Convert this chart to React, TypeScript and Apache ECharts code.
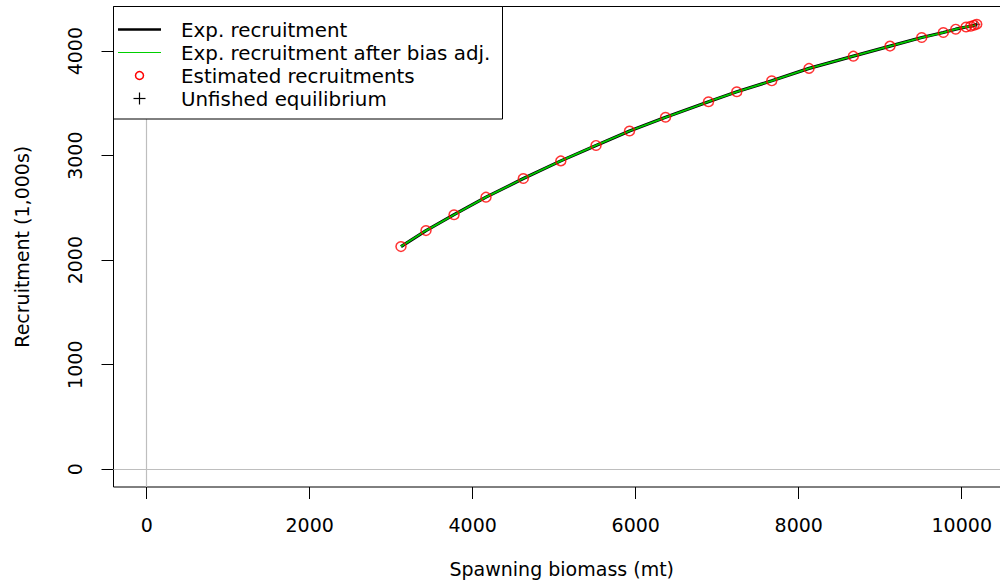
import React, { useEffect, useRef } from "react";
import * as echarts from "echarts";

// Values
const spawningBiomass = [3120, 3427, 3771, 4163, 4621, 5081, 5513, 5924, 6366, 6893, 7240, 7669, 8126, 8670, 9120, 9509, 9774, 9926, 10053, 10110, 10151, 10184];
const recruitment = [2130, 2283, 2435, 2603, 2781, 2950, 3098, 3236, 3367, 3516, 3611, 3716, 3835, 3952, 4048, 4130, 4178, 4210, 4231, 4238, 4248, 4257];
const unfishedB0 = [10185];
const unfishedR0 = [4257];
const xTicks = [0, 2000, 4000, 6000, 8000, 10000];
const yTicks = [0, 1000, 2000, 3000, 4000];
const legendLabels = ["Exp. recruitment", "Exp. recruitment after bias adj.", "Estimated recruitments", "Unfished equilibrium"];

const FONT = "DejaVu Sans";
const FS = 19;

export default function App() {
  const ref = useRef<HTMLDivElement>(null);
  useEffect(() => {
    if (!ref.current) return;
    const chart = echarts.init(ref.current, null, { renderer: "svg" });
    const pts = spawningBiomass.map((x, i) => [x, recruitment[i]]);
    const plus = unfishedB0.map((x, i) => [x, unfishedR0[i]]);
    const rowY = [29.5, 52.5, 75.5, 98.5];
    const legendGraphic: any[] = [
      { type: "rect", shape: { x: 113.5, y: 6.5, width: 389, height: 112.5 }, style: { fill: "#fff", stroke: "#000", lineWidth: 1 }, z: 100 },
      { type: "line", shape: { x1: 118, y1: rowY[0], x2: 161, y2: rowY[0] }, style: { stroke: "#000", lineWidth: 2.5 }, z: 101 },
      { type: "line", shape: { x1: 118, y1: rowY[1], x2: 161, y2: rowY[1] }, style: { stroke: "#00d000", lineWidth: 1.2 }, z: 101 },
      { type: "circle", shape: { cx: 139.5, cy: rowY[2], r: 4 }, style: { fill: "none", stroke: "#ff0000", lineWidth: 1.5 }, z: 101 },
      { type: "line", shape: { x1: 133.5, y1: rowY[3], x2: 145.5, y2: rowY[3] }, style: { stroke: "#000", lineWidth: 1.2 }, z: 101 },
      { type: "line", shape: { x1: 139.5, y1: rowY[3] - 6, x2: 139.5, y2: rowY[3] + 6 }, style: { stroke: "#000", lineWidth: 1.2 }, z: 101 },
      ...legendLabels.map((t, i) => ({
        type: "text",
        x: 181,
        y: rowY[i] + 1,
        scaleX: 1.045,
        style: { text: t, fill: "#000", font: `${FS}px "${FONT}"`, textVerticalAlign: "middle", textAlign: "left" },
        z: 101,
      })),
    ];
    const plain = (v: number) => String(v);
    chart.setOption({
      animation: false,
      backgroundColor: "#fff",
      textStyle: { fontFamily: FONT },
      grid: { left: 113.5, right: 10, top: 6.5, bottom: 94, show: true, borderColor: "#000", borderWidth: 1, backgroundColor: "transparent" },
      xAxis: {
        type: "value",
        min: -407,
        max: 10592,
        splitLine: { show: false },
        axisLine: { show: false, onZero: false },
        axisTick: { show: true, inside: false, customValues: xTicks, length: 12, lineStyle: { color: "#000", width: 1 } },
        axisLabel: { customValues: xTicks, formatter: plain, color: "#000", fontSize: FS, fontFamily: FONT, margin: 28 },
        name: "Spawning biomass (mt)",
        nameLocation: "middle",
        nameGap: 72,
        nameTextStyle: { color: "#000", fontSize: FS, fontFamily: FONT },
      },
      yAxis: {
        type: "value",
        min: -170,
        max: 4427,
        splitLine: { show: false },
        axisLine: { show: false, onZero: false },
        axisTick: { show: true, inside: false, customValues: yTicks, length: 12, lineStyle: { color: "#000", width: 1 } },
        axisLabel: { customValues: yTicks, formatter: plain, color: "#000", fontSize: FS, fontFamily: FONT, margin: 29, rotate: 90, align: "center", verticalAlign: "bottom" },
        name: "Recruitment (1,000s)",
        nameLocation: "middle",
        nameGap: 82,
        nameRotate: 90,
        nameTextStyle: { color: "#000", fontSize: FS, fontFamily: FONT },
      },
      series: [
        {
          name: "Exp. recruitment",
          type: "line",
          data: pts,
          symbol: "none",
          lineStyle: { color: "#000", width: 3.2 },
          z: 2,
          markLine: {
            silent: true,
            symbol: ["none", "none"],
            label: { show: false },
            lineStyle: { color: "#bebebe", type: "solid", width: 1.2 },
            data: [{ xAxis: 0 }, { yAxis: 0 }],
          },
        },
        {
          name: "Exp. recruitment after bias adj.",
          type: "line",
          data: pts,
          symbol: "none",
          lineStyle: { color: "#00c800", width: 1.8 },
          z: 3,
        },
        {
          name: "Estimated recruitments",
          type: "scatter",
          data: pts,
          symbol: "circle",
          symbolSize: [10, 9.5],
          itemStyle: { color: "rgba(0,0,0,0)", borderColor: "#ff0000", borderWidth: 1.5 },
          z: 4,
        },
        {
          name: "Unfished equilibrium",
          type: "scatter",
          data: plus,
          symbol: "path://M0,5L10,5M5,0L5,10",
          symbolSize: 7,
          itemStyle: { color: "none", borderColor: "#000", borderWidth: 1 },
          z: 3.5,
        },
      ],
      graphic: legendGraphic,
    });
    return () => chart.dispose();
  }, []);
  return (
    <div style={{ position: "absolute", left: 0, top: 0, width: 1000, height: 583, overflow: "hidden", background: "#fff" }}>
      <div ref={ref} style={{ position: "absolute", left: 0, top: 0, width: 1020, height: 583 }} />
    </div>
  );
}
